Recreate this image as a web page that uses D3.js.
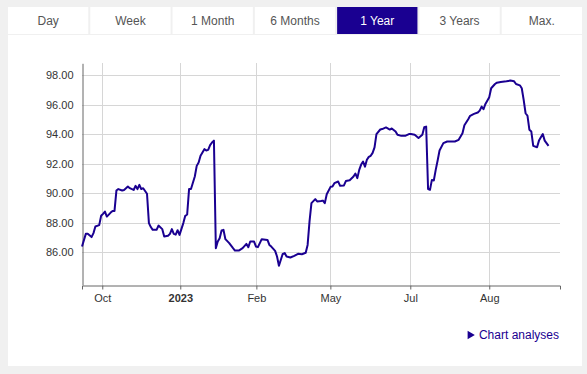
<!DOCTYPE html>
<html lang="en">
<head>
  <meta charset="UTF-8">
  <title>1 Year chart</title>
  <script src="https://cdn.jsdelivr.net/npm/d3@7/dist/d3.min.js"></script>
  <style>
    body { margin: 0; background: #f0f0f0; }
    svg { display: block; font-family: "Liberation Sans", Arial, sans-serif; }
  </style>
</head>
<body>
<script>
  // period tabs
  const tabs = ["Day", "Week", "1 Month", "6 Months", "1 Year", "3 Years", "Max."];
  const activeTab = "1 Year";

  // trading day index and price
  const days = [0, 2, 3, 5, 6, 7, 9, 10, 11, 12, 13, 15, 16, 17, 18, 19, 21, 22, 24, 25,
    27, 28, 29, 30, 31, 32, 34, 35, 36, 37, 39, 40, 42, 43, 45, 46, 47, 48, 49, 50,
    51, 53, 54, 55, 56, 57, 59, 60, 61, 62, 63, 64, 65, 66, 67, 68, 69, 70, 71, 72,
    73, 74, 75, 77, 79, 80, 82, 84, 86, 87, 88, 90, 91, 92, 94, 97, 98, 99, 101, 102,
    103, 105, 106, 107, 109, 111, 113, 115, 117, 118, 119, 120, 122, 123, 125, 126, 127, 128, 130, 131,
    132, 134, 135, 137, 138, 140, 142, 143, 144, 145, 146, 147, 148, 149, 150, 151, 152, 153, 154, 156,
    157, 159, 161, 162, 164, 165, 167, 169, 171, 172, 174, 176, 178, 179, 180, 181, 182, 183, 184, 185,
    186, 187, 189, 191, 192, 195, 197, 199, 200, 202, 203, 205, 207, 208, 209, 210, 211, 213, 214, 216,
    217, 219, 222, 224, 226, 227, 229, 230, 231, 232, 233, 234, 235, 236, 238, 239, 241, 242, 244];
  const prices = [86.39, 87.25, 87.25, 87.03, 87.30, 87.75, 87.84, 88.47, 88.60, 88.76, 88.42, 88.69, 88.80, 88.80, 90.18, 90.28, 90.18, 90.22, 90.45, 90.34,
    90.22, 90.50, 90.28, 90.57, 90.28, 90.34, 89.96, 87.98, 87.71, 87.52, 87.52, 87.81, 87.57, 87.07, 87.12, 87.25, 87.57, 87.25, 87.20, 87.50,
    87.18, 87.98, 88.47, 88.56, 90.28, 90.28, 91.13, 91.85, 92.08, 92.53, 92.75, 92.98, 92.89, 92.93, 93.25, 93.43, 93.56, 86.28, 86.73, 86.96,
    87.48, 87.52, 86.89, 86.62, 86.28, 86.12, 86.12, 86.28, 86.57, 86.35, 86.73, 86.73, 86.39, 86.35, 86.89, 86.84, 86.50, 86.39, 86.10, 85.72,
    85.09, 85.90, 85.95, 85.72, 85.65, 85.76, 85.90, 85.87, 85.97, 86.50, 88.10, 89.33, 89.60, 89.44, 89.47, 89.50, 89.33, 89.93, 90.43, 90.45,
    90.68, 90.79, 90.50, 90.53, 90.82, 90.88, 91.13, 91.33, 91.02, 91.58, 91.94, 92.14, 91.80, 92.26, 92.46, 92.53, 92.73, 93.10, 94.00, 94.31,
    94.34, 94.45, 94.31, 94.38, 94.17, 93.95, 93.88, 93.88, 94.00, 94.00, 93.95, 93.73, 93.95, 94.46, 94.51, 90.28, 90.23, 90.90, 90.86, 91.58,
    92.21, 92.89, 93.39, 93.50, 93.50, 93.50, 93.61, 94.06, 94.60, 95.01, 95.24, 95.37, 95.46, 95.59, 95.86, 95.68, 96.04, 96.50, 97.10, 97.39,
    97.48, 97.53, 97.57, 97.62, 97.57, 97.39, 97.30, 97.10, 96.31, 95.41, 95.24, 94.29, 94.17, 93.20, 93.11, 93.56, 94.00, 93.56, 93.20];

  // x axis labels (at trading day index)
  const tickDays = [10.6, 51.4, 91.2, 129.9, 171.7, 213];
  const tickLabels = ["Oct", "2023", "Feb", "May", "Jul", "Aug"];
  const yTicks = [86, 88, 90, 92, 94, 96, 98];

  const width = 587, height = 374;
  const navy = "#1a0091";

  const svg = d3.select("body").append("svg")
    .attr("width", width)
    .attr("height", height);

  // white panel
  svg.append("rect")
    .attr("x", 8).attr("y", 35)
    .attr("width", 574).attr("height", 331)
    .attr("fill", "#fff");

  // tabs
  const tabX = d3.scaleBand().domain(tabs).range([8, 582]).paddingInner(0.024);
  const tg = svg.append("g").selectAll("g")
    .data(tabs)
    .enter()
    .append("g")
    .attr("transform", d => "translate(" + tabX(d) + ",7)");
  tg.append("rect")
    .attr("width", tabX.bandwidth())
    .attr("height", 27)
    .attr("fill", d => d === activeTab ? navy : "#fff");
  tg.append("text")
    .attr("x", tabX.bandwidth() / 2)
    .attr("y", 18)
    .attr("text-anchor", "middle")
    .attr("font-size", 12)
    .attr("fill", d => d === activeTab ? "#fff" : "#555")
    .text(d => d);

  // scales
  const x = d3.scaleLinear().domain([0, 250]).range([82, 560]);
  const y = d3.scaleLinear().domain([83.79, 98.79]).range([285, 63.3]);

  // grid
  const grid = svg.append("g").attr("stroke", "#d6d6d6").attr("stroke-width", 1);
  grid.selectAll("line.h")
    .data(yTicks)
    .enter()
    .append("line")
    .attr("x1", 82).attr("x2", 560)
    .attr("y1", d => Math.round(y(d)) + 0.5)
    .attr("y2", d => Math.round(y(d)) + 0.5);
  grid.selectAll("line.v")
    .data(tickDays)
    .enter()
    .append("line")
    .attr("y1", 63).attr("y2", 285)
    .attr("x1", d => Math.round(x(d)) + 0.5)
    .attr("x2", d => Math.round(x(d)) + 0.5);

  // axes
  const xAxis = svg.append("g")
    .attr("transform", "translate(0,285.5)")
    .call(d3.axisBottom(x)
      .tickValues(tickDays)
      .tickFormat((d, i) => tickLabels[i])
      .tickSizeOuter(0)
      .tickSize(4)
      .tickPadding(5));
  const yAxis = svg.append("g")
    .attr("transform", "translate(82.5,0)")
    .call(d3.axisLeft(y)
      .tickValues(yTicks)
      .tickFormat(d3.format(".2f"))
      .tickSize(0)
      .tickSizeOuter(0)
      .tickPadding(9));

  [xAxis, yAxis].forEach(a => {
    a.select(".domain").attr("stroke", "#666");
    a.selectAll(".tick line").attr("stroke", "#666");
    a.selectAll("text")
      .attr("font-family", "Liberation Sans, Arial, sans-serif")
      .attr("font-size", 11)
      .attr("fill", "#333");
  });
  xAxis.selectAll(".tick text")
    .attr("font-weight", (d, i) => tickLabels[i] === "2023" ? "bold" : "normal");

  // price line
  const line = d3.line()
    .x((d, i) => x(days[i]))
    .y(d => y(d));
  svg.append("path")
    .attr("d", line(prices))
    .attr("fill", "none")
    .attr("stroke", navy)
    .attr("stroke-width", 2)
    .attr("stroke-linejoin", "round");

  // link
  svg.append("path")
    .attr("d", d3.symbol(d3.symbolTriangle, 30)())
    .attr("transform", "translate(470,335) rotate(90)")
    .attr("fill", navy);
  svg.append("text")
    .attr("x", 559)
    .attr("y", 339)
    .attr("text-anchor", "end")
    .attr("font-size", 12)
    .attr("fill", navy)
    .text("Chart analyses");
</script>
</body>
</html>
